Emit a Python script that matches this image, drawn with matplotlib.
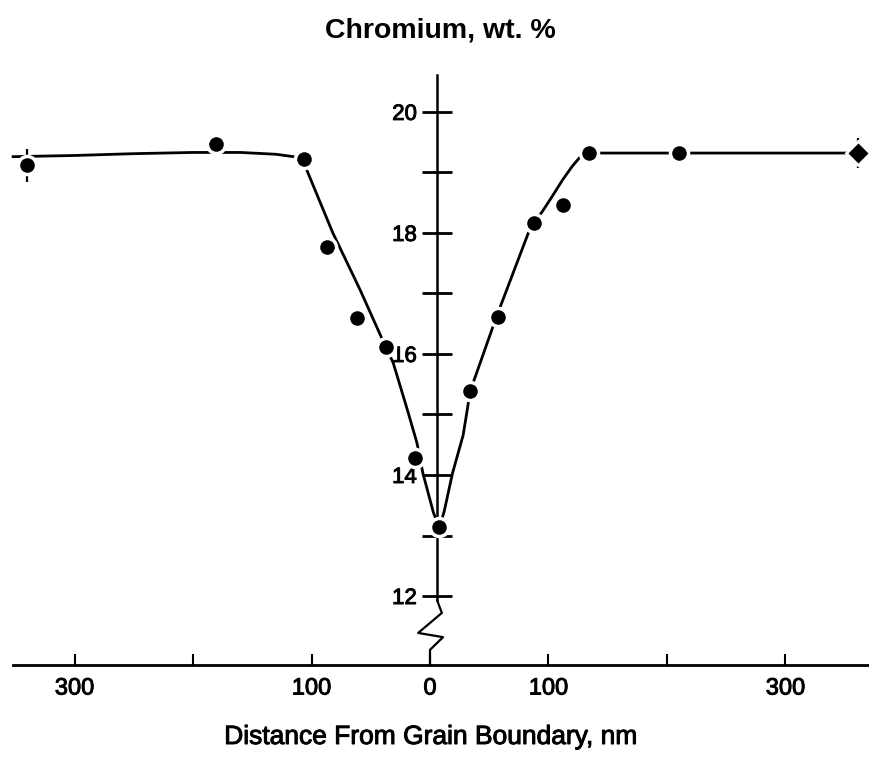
import matplotlib.pyplot as plt
import matplotlib.patheffects as pe
import numpy as np

plt.rcParams['font.family'] = ['Liberation Sans', 'DejaVu Sans']

# measured points (distance in nm, Cr wt.%)
dist = [-340, -181, -106, -87, -62, -37, -13, 8, 34, 57, 88, 112, 134, 210]
chrom = [19.12, 19.47, 19.22, 17.77, 16.6, 16.12, 14.28, 13.14, 15.39, 16.61, 18.17, 18.46, 19.32, 19.32]

# end point drawn as a diamond
end_dist = [361]
end_chrom = [19.32]

# points with scatter bars
err_dist = [-340, 361]
err_chrom = [19.12, 19.32]
err_size = [0.27, 0.25]

# hand drawn profile curve
fit_x = [-353, -300, -250, -200, -160, -130, -115, -106, -104, -82, -59, -40, -31, -19, -11, -6, 3, 8,
         12, 19, 28, 34, 56, 83, 88, 95, 103, 112, 120, 126, 133, 371]
fit_y = [19.26, 19.28, 19.31, 19.33, 19.33, 19.30, 19.26, 19.22, 19.04, 18.0, 17.06, 16.23, 15.85, 15.07, 14.53, 14.03, 13.37, 13.14,
         13.4, 14.03, 14.66, 15.39, 16.61, 18.0, 18.17, 18.36, 18.6, 18.88, 19.1, 19.24, 19.32, 19.32]

xticks = [-300, -200, -100, 0, 100, 200, 300]
xtick_labels = ['300', '', '100', '0', '100', '', '300']
yticks = [12, 13, 14, 15, 16, 17, 18, 19, 20]
ytick_labels = ['12', '', '14', '', '16', '', '18', '', '20']

# scanned print looks heavy, thicken the text a little
heavy = [pe.withStroke(linewidth=0.7, foreground='black')]

fig = plt.figure(figsize=(8.69, 7.58), dpi=100)
ax = fig.add_axes([0, 93 / 758, 1, 590 / 758])
ax.set_xlim(-362.9, 370.5)
ax.set_ylim(10.86, 20.61)

ax.plot(fit_x, fit_y, color='black', lw=2.0, zorder=2, solid_capstyle='butt', solid_joinstyle='round')
ax.errorbar(err_dist, err_chrom, yerr=err_size, fmt='none', ecolor='black',
            elinewidth=1.6, capsize=0, zorder=1)
ax.plot(dist, chrom, 'o', color='black', ms=13, mec='white', mew=2.5, zorder=3)
ax.plot(end_dist, end_chrom, 'D', color='black', ms=12, mec='white', mew=2.0, zorder=3)

# axes drawn like the original: x line at the bottom, y line through the boundary
for s in ['top', 'right']:
    ax.spines[s].set_visible(False)
ax.spines['bottom'].set_bounds(-352, 370.5)
ax.spines['bottom'].set_linewidth(2.0)
ax.spines['left'].set_position(('data', 6))
ax.spines['left'].set_bounds(11.93, 20.61)
ax.spines['left'].set_linewidth(1.8)

# axis break zigzag
ax.plot([0, 0, 11, -10, 10, 6], [10.86, 11.11, 11.32, 11.39, 11.72, 11.93],
        color='black', lw=1.6, clip_on=False, zorder=2)

ax.set_xticks(xticks)
ax.set_xticklabels(xtick_labels, fontsize=17)
ax.tick_params(axis='x', direction='in', length=8, width=1.5, pad=9)
ax.set_yticks(yticks)
ax.set_yticklabels(ytick_labels, fontsize=16)
ax.tick_params(axis='y', direction='inout', length=21, width=2.0, pad=4)
for lab in ax.get_xticklabels() + ax.get_yticklabels():
    lab.set_path_effects(heavy)

fig.text(440 / 869, 1 - 30 / 758, 'Chromium, wt. %', ha='center', va='center', fontsize=20.5,
         fontweight='bold')
fig.text(431 / 869, 1 - 737 / 758, 'Distance From Grain Boundary, nm', ha='center',
         va='center', fontsize=19, path_effects=heavy)

fig.savefig('out.png', dpi=100)
